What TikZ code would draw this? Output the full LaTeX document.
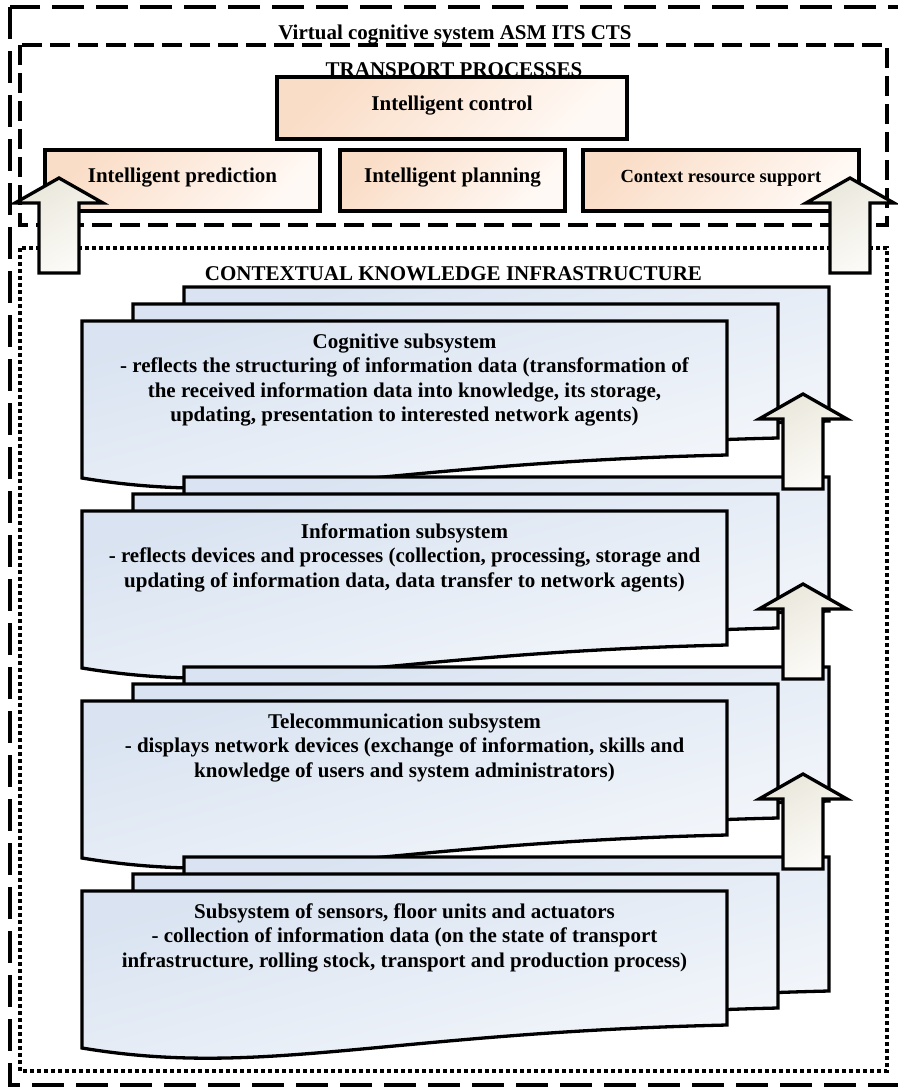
\documentclass[tikz,border=0pt]{standalone}
\usepackage{fontspec}
\setmainfont{Liberation Serif}
\definecolor{peach}{HTML}{FADDC7}
\definecolor{peachlight}{HTML}{FFF9F5}
\definecolor{docblue}{HTML}{D9E3F1}
\definecolor{docbluelight}{HTML}{F4F7FB}
\definecolor{cream}{HTML}{EAE8DC}
\definecolor{creamlight}{HTML}{FCFBF8}
\tikzset{
  outerframe/.style={line width=3.6pt,dash pattern=on 32pt off 12pt},
  innerframe/.style={line width=3.3pt,dash pattern=on 20pt off 8pt},
  dotframe/.style={line width=3.6pt,dash pattern=on 4pt off 3pt},
  titletext/.style={inner sep=0pt,font=\fontsize{21}{24.5}\selectfont\bfseries},
  procbox/.style={draw,line width=3.3pt,top color=peach,bottom color=peachlight,shading angle=45,
    text height=15pt,text depth=11pt,inner sep=0pt,font=\fontsize{21}{24.5}\selectfont\bfseries},
  doclayer/.style={draw,line width=3.3pt,line join=miter,top color=docblue,bottom color=docbluelight,shading angle=15},
  doctext/.style={anchor=north,align=center,inner sep=0pt,font=\fontsize{21}{24.5}\selectfont\bfseries},
  uparrow/.style={draw,line width=3.3pt,line join=miter,top color=cream,bottom color=creamlight,shading angle=30}
}
\begin{document}
\begin{tikzpicture}[x=1pt,y=-1pt]
\useasboundingbox (0,0) rectangle (897,1087);
% outer frame
\draw[outerframe] (10,7) rectangle (905,1085);
\node[titletext,anchor=base] (vcs) at (455,39) {Virtual cognitive system ASM ITS CTS};
% transport processes
\draw[innerframe] (20,45) rectangle (887,225);
\node[titletext,anchor=base] (tp) at (454,76) {TRANSPORT PROCESSES};
\node[procbox,minimum width=350pt,minimum height=62pt] (ctrl) at (452,108) {Intelligent control};
\node[procbox,minimum width=275pt,minimum height=61pt] (pred) at (182.5,180.5) {Intelligent prediction};
\node[procbox,minimum width=225pt,minimum height=61pt] (plan) at (452.5,180.5) {Intelligent planning};
\node[procbox,minimum width=276pt,minimum height=61pt,font=\fontsize{18.5}{22}\selectfont\bfseries] (ctx) at (721,180.5) {Context resource support};
% knowledge infrastructure
\draw[dotframe] (20,248) rectangle (887,1071);
\node[titletext,anchor=base] (cki) at (453.5,280) {CONTEXTUAL KNOWLEDGE INFRASTRUCTURE};
\begin{scope}[shift={(82,321)}]
\foreach \j in {2,1,0} {
  \begin{scope}[shift={(51*\j,-17*\j)}]
  \draw[doclayer] (0,0) -- (645,0) -- (645,134) .. controls (300,142) and (180,187) .. (0,157) -- cycle;
  \end{scope}}
\node[doctext] (cog) at (322.5,12.5) {Cognitive subsystem\\- reflects the structuring of information data (transformation of\\the received information data into knowledge, its storage,\\updating, presentation to interested network agents)};
\end{scope}
\begin{scope}[shift={(82,511)}]
\foreach \j in {2,1,0} {
  \begin{scope}[shift={(51*\j,-17*\j)}]
  \draw[doclayer] (0,0) -- (645,0) -- (645,134) .. controls (300,142) and (180,187) .. (0,157) -- cycle;
  \end{scope}}
\node[doctext] (inf) at (322.5,12.5) {Information subsystem\\- reflects devices and processes (collection, processing, storage and\\updating of information data, data transfer to network agents)};
\end{scope}
\begin{scope}[shift={(82,701)}]
\foreach \j in {2,1,0} {
  \begin{scope}[shift={(51*\j,-17*\j)}]
  \draw[doclayer] (0,0) -- (645,0) -- (645,134) .. controls (300,142) and (180,187) .. (0,157) -- cycle;
  \end{scope}}
\node[doctext] (tel) at (322.5,12.5) {Telecommunication subsystem\\- displays network devices (exchange of information, skills and\\knowledge of users and system administrators)};
\end{scope}
\begin{scope}[shift={(82,891)}]
\foreach \j in {2,1,0} {
  \begin{scope}[shift={(51*\j,-17*\j)}]
  \draw[doclayer] (0,0) -- (645,0) -- (645,134) .. controls (300,142) and (180,187) .. (0,157) -- cycle;
  \end{scope}}
\node[doctext] (sens) at (322.5,12.5) {Subsystem of sensors, floor units and actuators\\- collection of information data (on the state of transport\\infrastructure, rolling stock, transport and production process)};
\end{scope}
% block arrows
\foreach \x/\y in {59/178,850/178,803/394,803/584,803/774}
  {\draw[uparrow] (\x,\y) -- ++(44,25) -- ++(-24,0) -- ++(0,70) -- ++(-40,0) -- ++(0,-70) -- ++(-24,0) -- cycle;}
\end{tikzpicture}
\end{document}
